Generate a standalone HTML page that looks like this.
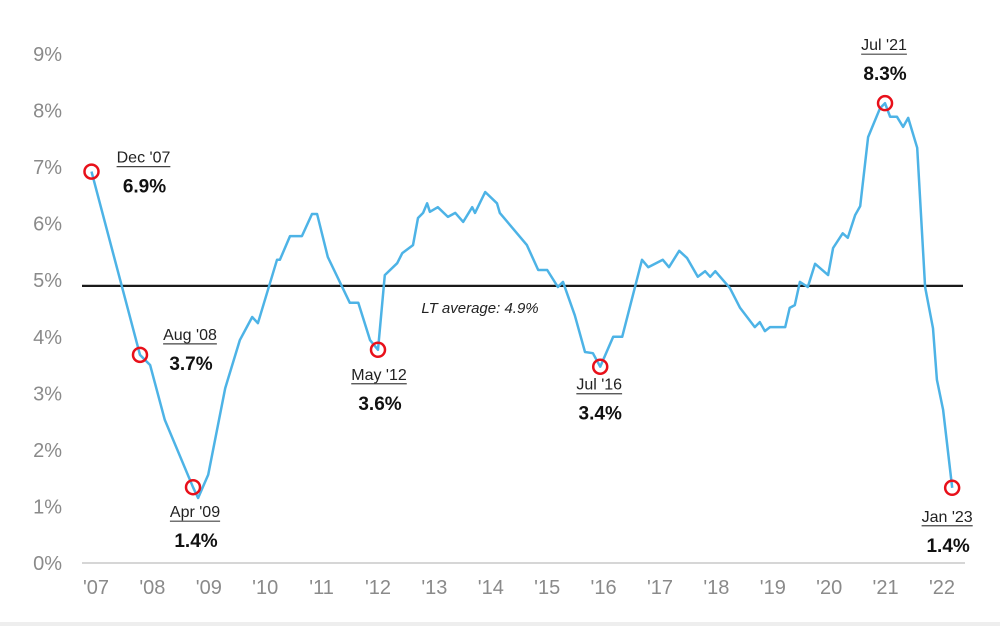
<!DOCTYPE html>
<html><head><meta charset="utf-8">
<style>
html,body{margin:0;padding:0;background:#fff;}
svg{display:block;font-family:"Liberation Sans",sans-serif;}
</style></head>
<body>
<svg id="chart" width="1000" height="626" viewBox="0 0 1000 626" xmlns="http://www.w3.org/2000/svg">
<rect x="0" y="0" width="1000" height="626" fill="#fff"/>
<rect x="0" y="622" width="1000" height="4" fill="#eee"/>
<g id="axes"></g>
<g id="series"></g>
<g id="annots"></g>
</svg>
<script>
const years = [2007,2008,2009,2010,2011,2012,2013,2014,2015,2016,2017,2018,2019,2020,2021,2022];
const yearLabels = ["'07","'08","'09","'10","'11","'12","'13","'14","'15","'16","'17","'18","'19","'20","'21","'22"];
const yTicks = [0,1,2,3,4,5,6,7,8,9];
const times = [2006.92,2007.78,2007.96,2008.22,2008.72,2008.81,2008.99,2009.29,2009.55,2009.77,2009.87,2010.21,2010.26,2010.44,2010.65,2010.83,2010.92,2011.11,2011.50,2011.65,2011.86,2012.00,2012.12,2012.34,2012.43,2012.62,2012.71,2012.80,2012.87,2012.92,2013.06,2013.24,2013.37,2013.51,2013.67,2013.72,2013.90,2014.11,2014.16,2014.64,2014.84,2015.00,2015.19,2015.28,2015.49,2015.67,2015.81,2015.94,2016.17,2016.33,2016.68,2016.79,2017.05,2017.16,2017.34,2017.48,2017.67,2017.80,2017.89,2017.98,2018.24,2018.42,2018.68,2018.77,2018.86,2018.95,2019.22,2019.30,2019.39,2019.48,2019.62,2019.75,2019.98,2020.07,2020.24,2020.33,2020.46,2020.55,2020.69,2020.90,2020.99,2021.08,2021.20,2021.31,2021.40,2021.56,2021.70,2021.84,2021.91,2022.02,2022.18];
const values = [6.92,3.68,3.50,2.53,1.34,1.15,1.56,3.09,3.94,4.35,4.24,5.36,5.36,5.78,5.78,6.17,6.17,5.41,4.60,4.60,3.94,3.77,5.09,5.30,5.48,5.62,6.10,6.19,6.36,6.21,6.29,6.12,6.19,6.03,6.29,6.19,6.56,6.36,6.19,5.62,5.18,5.18,4.88,4.97,4.38,3.73,3.71,3.47,4.00,4.00,5.36,5.23,5.36,5.23,5.52,5.39,5.06,5.16,5.06,5.16,4.86,4.51,4.17,4.26,4.10,4.17,4.17,4.51,4.56,4.97,4.88,5.29,5.09,5.57,5.83,5.75,6.15,6.31,7.53,8.04,8.13,7.89,7.89,7.71,7.87,7.34,4.88,4.15,3.24,2.71,1.33];
const ltAverage = 4.9;
const highlightIdx = [0,1,4,21,47,80,90];
const highlightDates = ["Dec '07","Aug '08","Apr '09","May '12","Jul '16","Jul '21","Jan '23"];
const highlightVals = ["6.9%","3.7%","1.4%","3.6%","3.4%","8.3%","1.4%"];

const X = t => 96 + (t - 2007) * 56.4;
const Y = v => 563 - v * 56.56;
const NS = "http://www.w3.org/2000/svg";
function mk(tag, attrs, parent){const e=document.createElementNS(NS,tag);for(const k in attrs)e.setAttribute(k,attrs[k]);parent.appendChild(e);return e;}
const axes=document.getElementById('axes'), series=document.getElementById('series'), ann=document.getElementById('annots');

yTicks.forEach(v=>{
  const t=mk('text',{x:62,y:Y(v)+7,'text-anchor':'end','font-size':20,fill:'#8a8a8a'},axes);
  t.textContent=v+'%';
  
  
});
years.forEach((yr,i)=>{
  const t=mk('text',{x:X(yr),y:594,'text-anchor':'middle','font-size':20,fill:'#8a8a8a'},axes);
  t.textContent=yearLabels[i];
  
  
});
const base=mk('line',{x1:82,x2:965,y1:Y(0),y2:Y(0),stroke:'#d6d6d6','stroke-width':2},axes);


const avg=mk('line',{x1:82,x2:963,y1:Y(ltAverage),y2:Y(ltAverage),stroke:'#1a1a1a','stroke-width':2.2},axes);


const avgT=mk('text',{x:480,y:Y(ltAverage)+27,'text-anchor':'middle','font-size':15,'font-style':'italic',fill:'#222'},axes);
avgT.textContent='LT average: '+ltAverage+'%';



const d=times.map((t,i)=>(i?'L':'M')+X(t).toFixed(1)+' '+Y(values[i]).toFixed(1)).join(' ');
const line=mk('path',{d:d,fill:'none',stroke:'#4db3e6','stroke-width':2.5,'stroke-linejoin':'round'},series);



const offs=[[52,-9],[50,-15],[2,30],[1,30],[-1,23],[-1,-53],[-5,34]];
highlightIdx.forEach((idx,k)=>{
  const cx=X(times[idx]), cy=Y(values[idx]);
  const c=mk('circle',{cx:cx,cy:cy,r:7,fill:'none',stroke:'#e8101a','stroke-width':2.5},ann);
  
  
  const lx=cx+offs[k][0], ly=cy+offs[k][1];
  const dt=mk('text',{x:lx,y:ly,'text-anchor':'middle','font-size':16,fill:'#222'},ann);
  dt.textContent=highlightDates[k];
  
  
  const w=dt.getComputedTextLength?dt.getComputedTextLength():50;
  const ul=mk('line',{x1:lx-w/2,x2:lx+w/2,y1:ly+4,y2:ly+4,stroke:'#444','stroke-width':1.2},ann);
  
  
  const vt=mk('text',{x:lx+1,y:ly+30,'text-anchor':'middle','font-size':19,'font-weight':'bold',fill:'#111'},ann);
  vt.textContent=highlightVals[k];
  
  
});
</script>
</body></html>
